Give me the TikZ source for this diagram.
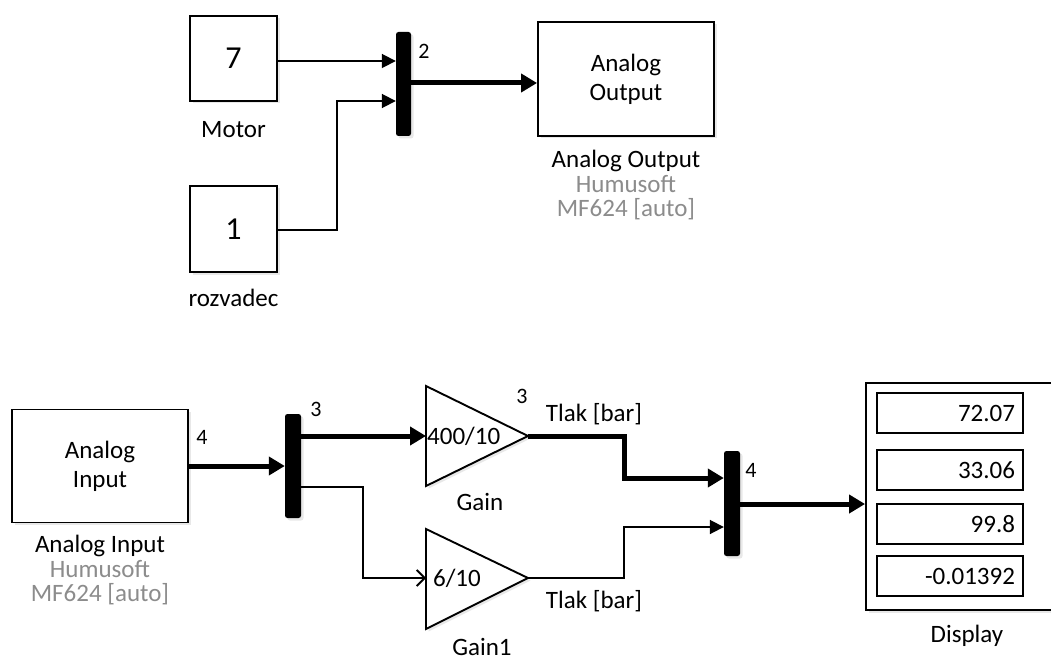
\documentclass[tikz,border=0pt]{standalone}
\usepackage{fontspec}
\setmainfont{Carlito}
\usetikzlibrary{arrows.meta,shadows,calc}
\definecolor{lblgray}{HTML}{8C8C8C}
\tikzset{
  blk/.style={draw, line width=1.9pt, fill=white,
    drop shadow={opacity=0.18, shadow xshift=2.5pt, shadow yshift=-2.5pt},
    inner sep=0pt, align=center, font=\fontsize{25}{29}\selectfont},
  muxbar/.style={fill=black, rounded corners=2.5pt, inner sep=0pt,
    drop shadow={opacity=0.18, shadow xshift=2.5pt, shadow yshift=-2.5pt}},
  sig/.style={line width=1.8pt, -{Triangle[length=14pt,width=14pt]}},
  sigopen/.style={line width=1.8pt, -{Straight Barb[length=8pt,width=16pt,line width=1.8pt]}},
  bus/.style={line width=5pt, -{Triangle[length=16pt,width=18pt]}},
  lbl/.style={font=\fontsize{25}{29}\selectfont, inner sep=0pt, align=center},
  num/.style={font=\fontsize{22}{26}\selectfont, inner sep=0pt},
  big/.style={font=\fontsize{32}{36}\selectfont},
  dval/.style={draw, line width=1.9pt, minimum width=146pt, minimum height=40pt,
    inner xsep=8pt, inner ysep=0pt, text width=130pt, align=right,
    font=\fontsize{25}{29}\selectfont},
  tri/.style={draw, line width=1.9pt, fill=white, line join=miter,
    drop shadow={opacity=0.18, shadow xshift=2.5pt, shadow yshift=-2.5pt}},
}
\begin{document}
\begin{tikzpicture}[x=1pt,y=-1pt]
\clip (0,0) rectangle (1051,660);
\fill[white] (0,0) rectangle (1051,660);

% ---------- top part ----------
\node[blk, big, minimum width=87pt, minimum height=85pt] (motor) at (233.5,58.5) {7};
\node[lbl, anchor=base] (motorl) at (233.5,138) {Motor};
\node[blk, big, minimum width=87pt, minimum height=86pt] (rozv) at (233.5,229) {1};
\node[lbl, anchor=base] (rozvl) at (233.5,306) {rozvadec};
\node[muxbar, minimum width=15pt, minimum height=104pt] (mux1) at (403.5,84) {};
\node[num, anchor=base] (n2) at (424,59) {2};
\node[blk, minimum width=176pt, minimum height=114pt] (ao) at (626,79) {Analog\\Output};
\node[lbl, anchor=north, font=\fontsize{25}{24.5}\selectfont] (aol) at (626,150)
  {Analog Output\\\textcolor{lblgray}{Humusoft}\\\textcolor{lblgray}{MF624 [auto]}};

\draw[sig] ([yshift=-2.5pt]motor.east) -- (mux1.west |- 0,61);
\draw[sig] ([yshift=-1pt]rozv.east) -- ++(59,0) |- (mux1.west |- 0,101);
\draw[bus] (mux1.east |- 0,83) -- (ao.west |- 0,83);

% ---------- bottom part ----------
\node[blk, minimum width=176pt, minimum height=113pt] (ai) at (100,466) {Analog\\Input};
\node[num, anchor=base] (n4a) at (202,444) {4};
\node[lbl, anchor=north, font=\fontsize{25}{24.5}\selectfont] (ail) at (100,535)
  {Analog Input\\\textcolor{lblgray}{Humusoft}\\\textcolor{lblgray}{MF624 [auto]}};
\node[muxbar, minimum width=16pt, minimum height=104pt] (mux2) at (293,466) {};
\node[num, anchor=base] (n3a) at (316,416) {3};

% gains
\draw[tri] (426,386) -- (528,436) -- (426,486) -- cycle;
\coordinate (gin) at (426,436);
\coordinate (gout) at (528,436);
\node[lbl, anchor=west] (gtxt) at (427,436) {400/10};
\node[lbl, anchor=base] (gl) at (480,510) {Gain};
\node[num, anchor=base] (n3b) at (522,403) {3};

\draw[tri] (426,529) -- (528,578) -- (426,629) -- cycle;
\coordinate (g1in) at (426,578);
\coordinate (g1out) at (528,578);
\node[lbl] (g1txt) at (457,578) {6/10};
\node[lbl, anchor=base] (g1l) at (482,655) {Gain1};

\node[lbl, anchor=base] (t1) at (594,421) {Tlak [bar]};
\node[lbl, anchor=base] (t2) at (594,608) {Tlak [bar]};

\node[muxbar, minimum width=16pt, minimum height=105pt] (mux3) at (732,503.5) {};
\node[num, anchor=base] (n4b) at (751,477) {4};

% display
\node[blk, minimum width=194pt, minimum height=227pt] (disp) at (963,496.5) {};
\node[dval] (d1) at (950,413) {72.07};
\node[dval] (d2) at (950,470) {33.06};
\node[dval] (d3) at (950,524) {99.8};
\node[dval] (d4) at (950,576) {-0.01392};
\node[lbl, anchor=base] (dl) at (967,642) {Display};

% connectors
\draw[bus] (ai.east) -- (mux2.west |- ai.east);
\draw[bus] (mux2.east |- gin) -- (gin);
\draw[sigopen] (mux2.east |- 0,487) -- ++(62,0) |- (g1in);
\draw[bus] (gout) -- ++(96,0) |- (mux3.west |- 0,478);
\draw[sig] (g1out) -- ++(96,0) |- (mux3.west |- 0,527);
\draw[bus] (mux3.east |- 0,504) -- (disp.west |- 0,504);
\end{tikzpicture}
\end{document}
